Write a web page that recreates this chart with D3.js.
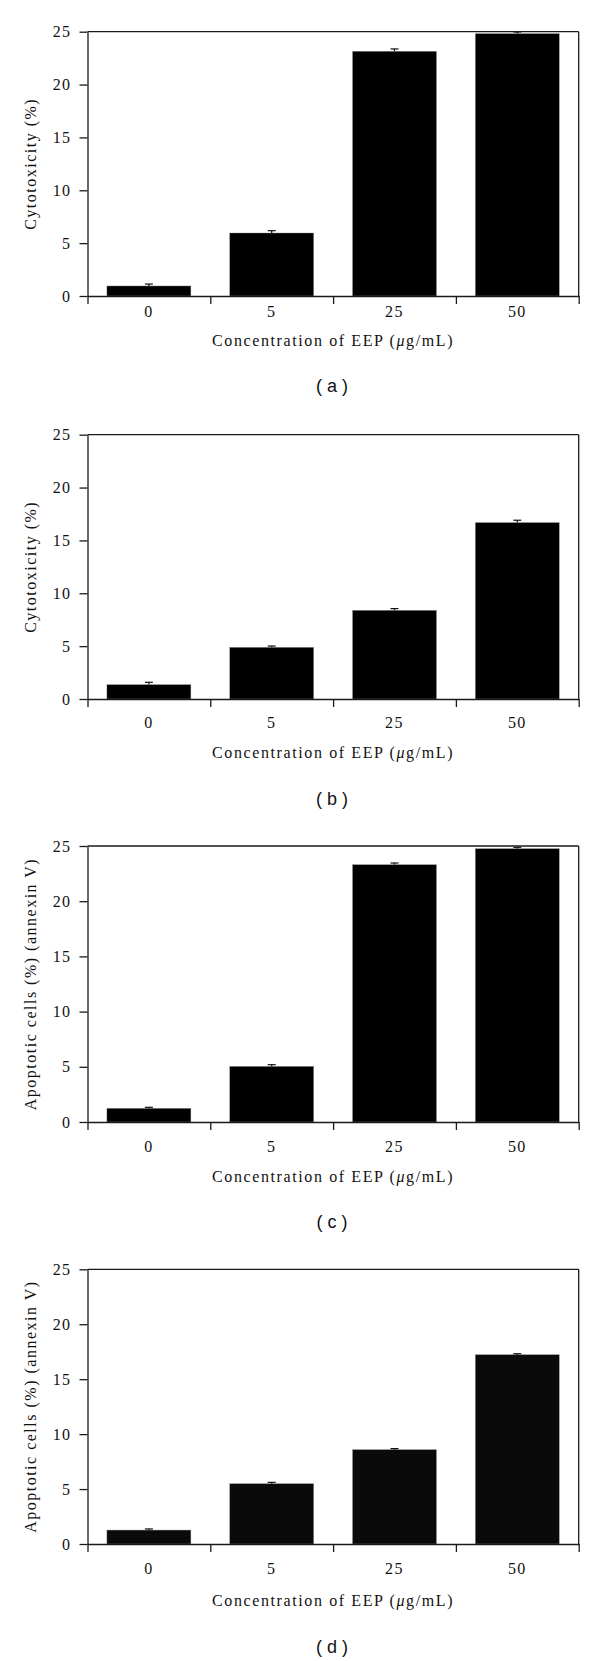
<!DOCTYPE html>
<html><head><meta charset="utf-8">
<script src="https://cdn.jsdelivr.net/npm/d3@7"></script>
<style>
body{margin:0;background:#fff}
svg text{font-family:"Liberation Serif","Times New Roman",serif;fill:#111}
</style>
</head><body>
<svg id="chart" width="600" height="1661"></svg>
<script>
// ---------------- data ----------------
const categories = ["0", "5", "25", "50"];
const yTicks = [0, 5, 10, 15, 20, 25];

const cytoA = [0.95, 5.96, 23.15, 24.82];
const cytoAErr = [0.18, 0.22, 0.22, 0.15];

const cytoB = [1.36, 4.89, 8.39, 16.69];
const cytoBErr = [0.22, 0.12, 0.16, 0.22];

const apoC = [1.24, 5.04, 23.31, 24.76];
const apoCErr = [0.09, 0.15, 0.15, 0.12];

const apoD = [1.27, 5.49, 8.59, 17.23];
const apoDErr = [0.10, 0.12, 0.09, 0.09];

const yLabelCyto = "Cytotoxicity (%)";
const yLabelApo = "Apoptotic cells (%) (annexin V)";
const xLabelMain = "Concentration of EEP (";
const xLabelMu = "μ";
const xLabelUnit = "g/mL)";
const captions = ["a", "b", "c", "d"];

// ---------------- layout ----------------
const panels = [
  {vals: cytoA, errs: cytoAErr, ylab: yLabelCyto, cap: captions[0], top: 31.7, bottom: 296, tickPad: 10, xlabOff: 50, capOff: 90, fill: "#000"},
  {vals: cytoB, errs: cytoBErr, ylab: yLabelCyto, cap: captions[1], top: 434.7, bottom: 699, tickPad: 18, xlabOff: 59, capOff: 100, fill: "#000"},
  {vals: apoC, errs: apoCErr, ylab: yLabelApo, cap: captions[2], top: 846, bottom: 1122, tickPad: 18.5, xlabOff: 60, capOff: 100, fill: "#000"},
  {vals: apoD, errs: apoDErr, ylab: yLabelApo, cap: captions[3], top: 1269.3, bottom: 1544, tickPad: 19, xlabOff: 62, capOff: 103, fill: "#0a0a0a"}
];
const left = 87.5, right = 578.7;
const lineColor = "#1a1a1a";
const svg = d3.select("#chart");

panels.forEach(p => {
  const g = svg.append("g");
  const x = d3.scaleBand().domain(categories).range([left, right]).paddingInner(0).paddingOuter(0);
  const y = d3.scaleLinear().domain([0, 25]).range([p.bottom, p.top]);
  const barW = x.bandwidth() * 0.684;

  // bars
  g.selectAll("rect.bar").data(categories).enter().append("rect")
    .attr("x", c => x(c) + (x.bandwidth() - barW) / 2)
    .attr("width", barW)
    .attr("y", (c, i) => y(p.vals[i]))
    .attr("height", (c, i) => y(0) - y(p.vals[i]))
    .attr("fill", p.fill)
    .attr("stroke", "#9a9a9a").attr("stroke-width", 0.4);

  // error bars (upper only)
  const eb = g.selectAll("g.err").data(categories).enter().append("g")
    .attr("stroke", "#111").attr("stroke-width", 1.2);
  eb.append("line")
    .attr("x1", c => x(c) + x.bandwidth() / 2).attr("x2", c => x(c) + x.bandwidth() / 2)
    .attr("y1", (c, i) => y(p.vals[i])).attr("y2", (c, i) => y(p.vals[i] + p.errs[i]));
  eb.append("line")
    .attr("x1", c => x(c) + x.bandwidth() / 2 - 4).attr("x2", c => x(c) + x.bandwidth() / 2 + 4)
    .attr("y1", (c, i) => y(p.vals[i] + p.errs[i])).attr("y2", (c, i) => y(p.vals[i] + p.errs[i]));

  // y axis
  const ya = g.append("g").attr("transform", `translate(${left},0)`)
    .call(d3.axisLeft(y).tickValues(yTicks).tickSize(8).tickSizeOuter(0).tickPadding(8));
  ya.selectAll("path,line").attr("stroke", lineColor).attr("stroke-width", 1.3);
  ya.selectAll("text").attr("font-size", 16).style("letter-spacing", "1.4px").attr("fill", "#111")
    .attr("font-family", "Liberation Serif");

  // x axis boundary ticks
  const xb = d3.scaleLinear().domain([0, categories.length]).range([left, right]);
  const xa = g.append("g").attr("transform", `translate(0,${p.bottom})`)
    .call(d3.axisBottom(xb).tickValues(d3.range(categories.length + 1)).tickSize(8).tickSizeOuter(0).tickFormat(""));
  xa.selectAll("path,line").attr("stroke", lineColor).attr("stroke-width", 1.3);

  // x labels at band centres
  const xl = g.append("g").attr("transform", `translate(0,${p.bottom})`)
    .call(d3.axisBottom(x).tickSize(0).tickPadding(p.tickPad));
  xl.select(".domain").remove();
  xl.selectAll("text").attr("font-size", 16).style("letter-spacing", "1.4px").attr("fill", "#111")
    .attr("font-family", "Liberation Serif");

  // frame top & right
  g.append("line").attr("x1", left).attr("x2", right).attr("y1", y(25)).attr("y2", y(25))
    .attr("stroke", lineColor).attr("stroke-width", 1.3);
  g.append("line").attr("x1", right).attr("x2", right).attr("y1", y(25)).attr("y2", y(0))
    .attr("stroke", lineColor).attr("stroke-width", 1.3);

  // y label
  g.append("text")
    .attr("transform", `translate(36,${(p.top + p.bottom) / 2}) rotate(-90)`)
    .attr("text-anchor", "middle").attr("font-size", 16).style("letter-spacing", "1.5px")
    .text(p.ylab);

  // x label
  const xt = g.append("text")
    .attr("x", (left + right) / 2).attr("y", p.bottom + p.xlabOff)
    .attr("text-anchor", "middle").attr("font-size", 16).style("letter-spacing", "1.6px");
  xt.append("tspan").text(xLabelMain);
  xt.append("tspan").attr("font-style", "italic").text(xLabelMu);
  xt.append("tspan").text(xLabelUnit);

  // caption
  g.append("text")
    .attr("x", (left + right) / 2 - 1).attr("y", p.bottom + p.capOff)
    .attr("dy", "0.35em")
    .attr("text-anchor", "middle")
    .style("font-family", "'Liberation Sans', Arial, sans-serif")
    .attr("font-size", 18)
    .attr("xml:space", "preserve")
    .text("( " + p.cap + " )");
});
</script>
</body></html>
